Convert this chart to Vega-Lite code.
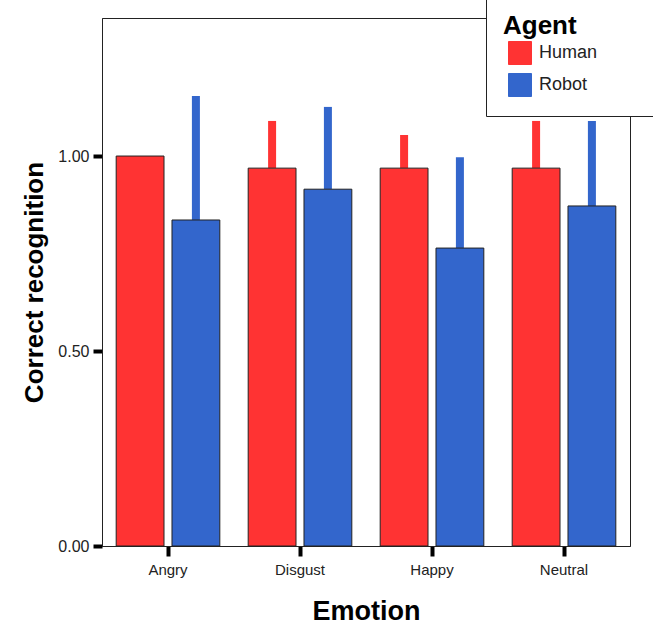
{
  "$schema": "https://vega.github.io/schema/vega-lite/v6.json",
  "autosize": "none",
  "width": 528,
  "height": 528,
  "padding": {"left": 102, "top": 18, "right": 23, "bottom": 82},
  "background": "white",
  "config": {
    "font": "Liberation Sans",
    "view": {"stroke": "#222", "strokeWidth": 1}
  },
  "data": {
    "values": [
      {"emotion": "Angry", "agent": "Human", "value": 1.0, "upper": null},
      {"emotion": "Angry", "agent": "Robot", "value": 0.836, "upper": 1.154},
      {"emotion": "Disgust", "agent": "Human", "value": 0.969, "upper": 1.09},
      {"emotion": "Disgust", "agent": "Robot", "value": 0.915, "upper": 1.126},
      {"emotion": "Happy", "agent": "Human", "value": 0.969, "upper": 1.054},
      {"emotion": "Happy", "agent": "Robot", "value": 0.764, "upper": 0.997},
      {"emotion": "Neutral", "agent": "Human", "value": 0.969, "upper": 1.09},
      {"emotion": "Neutral", "agent": "Robot", "value": 0.872, "upper": 1.09}
    ]
  },
  "encoding": {
    "x": {
      "field": "emotion",
      "type": "nominal",
      "scale": {"paddingInner": 0, "paddingOuter": 0},
      "axis": {
        "title": "Emotion",
        "titleFontSize": 27,
        "titleFontWeight": "bold",
        "titleColor": "black",
        "titlePadding": 21,
        "labelAngle": 0,
        "labelFontSize": 15,
        "labelColor": "#222",
        "labelPadding": 6,
        "tickColor": "black",
        "tickWidth": 4,
        "tickSize": 10,
        "domainColor": "#222",
        "domainWidth": 1
      }
    },
    "xOffset": {
      "field": "agent",
      "type": "nominal",
      "scale": {"paddingInner": 0.143, "paddingOuter": 0.254}
    },
    "color": {
      "field": "agent",
      "type": "nominal",
      "scale": {"domain": ["Human", "Robot"], "range": ["#FF3333", "#3366CC"]},
      "legend": {
        "title": "Agent",
        "orient": "none",
        "legendX": 384,
        "legendY": -22,
        "titleFontSize": 26,
        "titleFontWeight": "bold",
        "titleColor": "black",
        "titlePadding": 2,
        "labelFontSize": 18,
        "labelColor": "#222",
        "labelOffset": 7,
        "labelExpr": "datum.label + '\u2800\u2800\u2800'",
        "symbolType": "square",
        "symbolSize": 529,
        "symbolOffset": 5,
        "symbolStrokeColor": "#222",
        "symbolStrokeWidth": 1,
        "symbolOpacity": 1,
        "rowPadding": 4,
        "padding": 17,
        "fillColor": "white",
        "strokeColor": "#222"
      }
    }
  },
  "layer": [
    {
      "transform": [{"filter": "datum.upper != null"}],
      "mark": {"type": "rule", "strokeWidth": 8, "strokeCap": "butt"},
      "encoding": {
        "y": {"field": "value", "type": "quantitative"},
        "y2": {"field": "upper"}
      }
    },
    {
      "mark": {"type": "bar", "stroke": "#222", "strokeWidth": 1, "opacity": 1},
      "encoding": {
        "y": {
          "field": "value",
          "type": "quantitative",
          "scale": {"domain": [0, 1.354], "nice": false},
          "axis": {
            "title": "Correct recognition",
            "titleFontSize": 26,
            "titleFontWeight": "bold",
            "titleColor": "black",
            "titlePadding": 10,
            "values": [0, 0.5, 1.0],
            "format": ".2f",
            "labelFontSize": 16,
            "labelColor": "#222",
            "labelPadding": 4,
            "tickColor": "black",
            "tickWidth": 4,
            "tickSize": 9,
            "grid": false,
            "domainColor": "#222",
            "domainWidth": 1
          }
        }
      }
    }
  ]
}
